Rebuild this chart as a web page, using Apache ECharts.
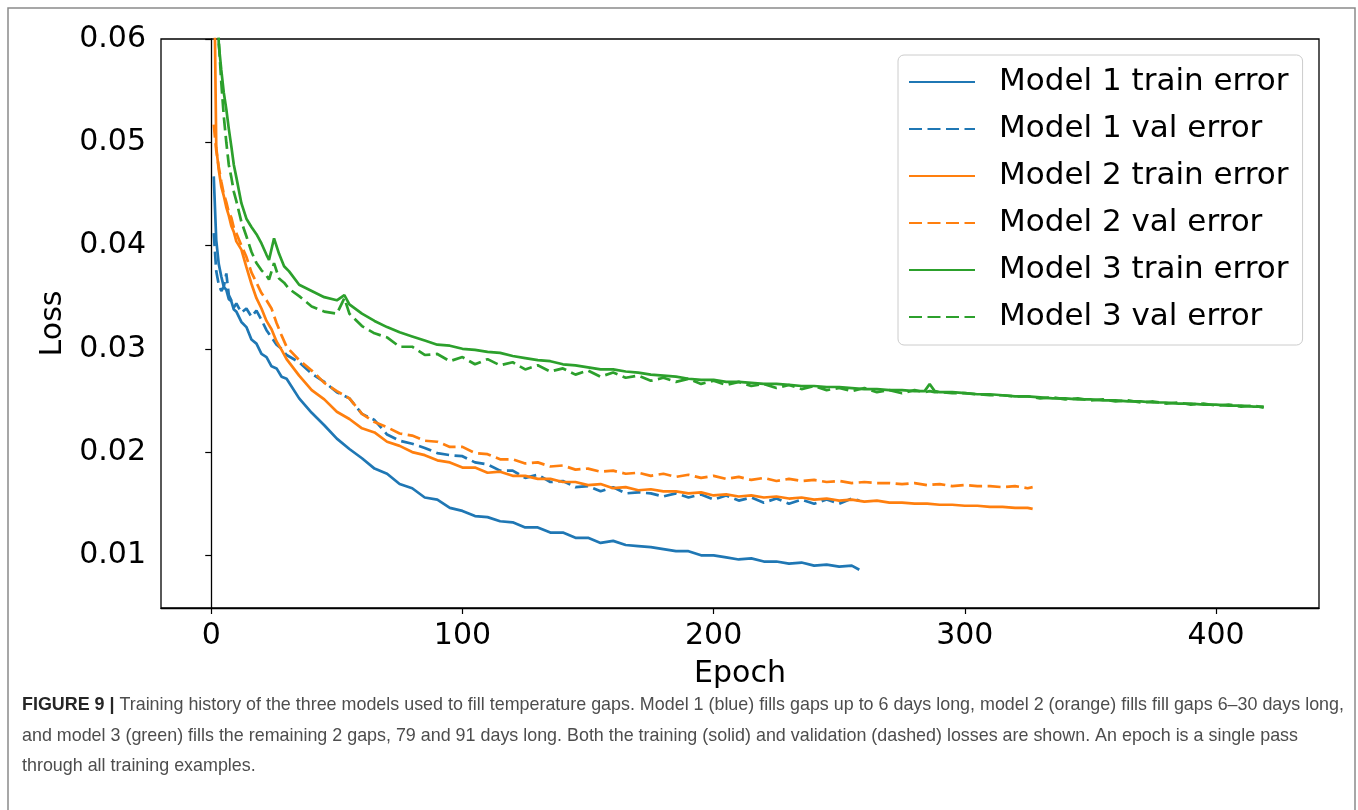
<!DOCTYPE html>
<html>
<head>
<meta charset="utf-8">
<title>Training history</title>
<script src="https://cdn.jsdelivr.net/npm/echarts@6/dist/echarts.min.js"></script>
<style>
  html, body { margin: 0; padding: 0; background: #fff; }
  #chart { width: 1358px; height: 810px; }
</style>
</head>
<body>
<div id="chart"></div>
<script>
// Epochs sampled along each curve (x values)
const m1Epochs = [1,2,3,4,5,6,7,8,9,10,12,14,16,18,20,22,24,26,28,30,35,40,45,50,55,60,65,70,75,80,85,90,95,100,105,110,115,120,125,130,135,140,145,150,155,160,165,170,175,180,185,190,195,200,205,210,215,220,225,230,235,240,245,250,255,258]
const m2Epochs = [1,2,3,4,5,6,7,8,9,10,12,14,16,18,20,22,24,26,28,30,35,40,45,50,55,60,65,70,75,80,85,90,95,100,105,110,115,120,125,130,135,140,145,150,155,160,165,170,175,180,185,190,195,200,205,210,215,220,225,230,235,240,245,250,255,260,265,270,275,280,285,290,295,300,305,310,315,320,325,327]
const m3Epochs = [1,2,3,4,5,6,7,8,9,10,12,14,16,18,20,22,23,25,27,29,31,35,40,45,50,53,55,60,65,70,75,80,85,90,95,100,105,110,115,120,125,130,135,140,145,150,155,160,165,170,175,180,185,190,195,200,205,210,215,220,225,230,235,240,245,250,255,260,265,270,275,280,284,286,288,290,295,300,305,310,315,320,325,330,335,340,345,350,355,360,365,370,375,380,385,390,395,400,405,410,415,419]

// Loss values
const m1Train = [0.0467,0.0405,0.0382,0.0370,0.0360,0.0357,0.0348,0.0346,0.0338,0.0336,0.0326,0.0321,0.0309,0.0305,0.0295,0.0292,0.0283,0.0281,0.0273,0.0271,0.0252,0.0238,0.0226,0.0213,0.0203,0.0194,0.0184,0.0179,0.0169,0.0165,0.0156,0.0154,0.0146,0.0143,0.0138,0.0137,0.0133,0.0132,0.0127,0.0127,0.0122,0.0122,0.0117,0.0117,0.0112,0.0114,0.0110,0.0109,0.0108,0.0106,0.0104,0.0104,0.0100,0.0100,0.0098,0.0096,0.0097,0.0094,0.0094,0.0092,0.0093,0.0090,0.0091,0.0089,0.0090,0.0086]
const m1Val = [0.0412,0.0375,0.0362,0.0356,0.0360,0.0373,0.0352,0.0347,0.0340,0.0344,0.0335,0.0339,0.0331,0.0337,0.0328,0.0318,0.0311,0.0304,0.0300,0.0294,0.0287,0.0276,0.0268,0.0258,0.0252,0.0237,0.0231,0.0217,0.0211,0.0208,0.0204,0.0199,0.0197,0.0196,0.0190,0.0188,0.0182,0.0182,0.0175,0.0178,0.0171,0.0172,0.0166,0.0167,0.0162,0.0166,0.0160,0.0161,0.0160,0.0157,0.0160,0.0156,0.0159,0.0154,0.0158,0.0153,0.0156,0.0151,0.0155,0.0150,0.0154,0.0150,0.0154,0.0150,0.0155,0.0153]
const m2Train = [0.0700,0.0495,0.0473,0.0457,0.0448,0.0437,0.0429,0.0419,0.0413,0.0404,0.0396,0.0379,0.0363,0.0349,0.0339,0.0327,0.0319,0.0307,0.0299,0.0290,0.0274,0.0260,0.0251,0.0239,0.0232,0.0223,0.0219,0.0210,0.0206,0.0200,0.0197,0.0192,0.0190,0.0185,0.0185,0.0180,0.0181,0.0177,0.0177,0.0174,0.0174,0.0171,0.0171,0.0168,0.0169,0.0165,0.0166,0.0163,0.0164,0.0162,0.0162,0.0160,0.0161,0.0158,0.0159,0.0157,0.0158,0.0156,0.0157,0.0155,0.0156,0.0154,0.0155,0.0153,0.0154,0.0152,0.0153,0.0151,0.0151,0.0150,0.0150,0.0149,0.0149,0.0148,0.0148,0.0147,0.0147,0.0146,0.0146,0.0145]
const m2Val = [0.0517,0.0492,0.0476,0.0462,0.0450,0.0442,0.0432,0.0427,0.0417,0.0412,0.0400,0.0389,0.0374,0.0364,0.0354,0.0347,0.0339,0.0325,0.0313,0.0302,0.0289,0.0279,0.0267,0.0259,0.0252,0.0237,0.0229,0.0224,0.0218,0.0216,0.0211,0.0210,0.0205,0.0205,0.0199,0.0198,0.0193,0.0193,0.0189,0.0190,0.0186,0.0187,0.0183,0.0184,0.0181,0.0182,0.0179,0.0180,0.0177,0.0179,0.0176,0.0178,0.0175,0.0177,0.0174,0.0176,0.0173,0.0175,0.0172,0.0174,0.0172,0.0173,0.0171,0.0172,0.0170,0.0171,0.0170,0.0170,0.0169,0.0170,0.0168,0.0169,0.0167,0.0168,0.0167,0.0167,0.0166,0.0167,0.0165,0.0166]
const m3Train = [0.0900,0.0690,0.0595,0.0570,0.0548,0.0532,0.0513,0.0496,0.0478,0.0466,0.0441,0.0426,0.0418,0.0411,0.0402,0.0391,0.0386,0.0407,0.0392,0.0380,0.0375,0.0362,0.0356,0.0350,0.0347,0.0352,0.0343,0.0334,0.0327,0.0321,0.0316,0.0312,0.0308,0.0304,0.0303,0.0300,0.0299,0.0297,0.0296,0.0293,0.0291,0.0289,0.0288,0.0285,0.0284,0.0282,0.0280,0.0280,0.0278,0.0277,0.0275,0.0274,0.0273,0.0271,0.0270,0.0270,0.0268,0.0268,0.0267,0.0266,0.0266,0.0265,0.0264,0.0264,0.0263,0.0263,0.0262,0.0261,0.0261,0.0260,0.0260,0.0259,0.0259,0.0266,0.0259,0.0258,0.0258,0.0257,0.0256,0.0256,0.0255,0.0254,0.0254,0.0253,0.0252,0.0252,0.0251,0.0251,0.0250,0.0250,0.0249,0.0249,0.0248,0.0248,0.0247,0.0247,0.0246,0.0246,0.0245,0.0245,0.0244,0.0244]
const m3Val = [0.0900,0.0700,0.0598,0.0558,0.0525,0.0500,0.0478,0.0466,0.0452,0.0443,0.0423,0.0409,0.0394,0.0383,0.0376,0.0371,0.0367,0.0383,0.0368,0.0364,0.0358,0.0351,0.0341,0.0336,0.0334,0.0349,0.0334,0.0322,0.0315,0.0311,0.0302,0.0302,0.0294,0.0295,0.0288,0.0292,0.0285,0.0290,0.0284,0.0287,0.0280,0.0284,0.0278,0.0281,0.0275,0.0279,0.0273,0.0277,0.0272,0.0274,0.0269,0.0272,0.0268,0.0271,0.0266,0.0269,0.0265,0.0268,0.0264,0.0266,0.0262,0.0265,0.0261,0.0264,0.0260,0.0262,0.0259,0.0262,0.0258,0.0260,0.0257,0.0260,0.0258,0.0259,0.0258,0.0258,0.0257,0.0257,0.0256,0.0255,0.0255,0.0254,0.0254,0.0252,0.0253,0.0251,0.0252,0.0250,0.0251,0.0249,0.0250,0.0248,0.0249,0.0247,0.0248,0.0246,0.0247,0.0245,0.0246,0.0244,0.0245,0.0243]

const xTicks = [0, 100, 200, 300, 400]
const yTicks = [0.01, 0.02, 0.03, 0.04, 0.05, 0.06]

const BLUE = '#1f77b4'
const ORANGE = '#ff7f0e'
const GREEN = '#2ca02c'
const DASH = [13, 5.5]
const FONT = 'DejaVu Sans'

const zip = (xs, ys) => xs.map((x, i) => [x, ys[i]])

const lineSeries = (name, epochs, values, color, dashed) => ({
  name,
  type: 'line',
  data: zip(epochs, values),
  symbol: 'none',
  clip: true,
  lineStyle: { color, width: 2.7, type: dashed ? DASH : 'solid' },
  itemStyle: { color }
})

const chart = echarts.init(document.getElementById('chart'))

chart.setOption({
  animation: false,
  backgroundColor: '#fff',
  title: {
    left: 17,
    top: 685,
    text: '{b|FIGURE 9 |} Training history of the three models used to fill temperature gaps. Model 1 (blue) fills gaps up to 6 days long, model 2 (orange) fills fill gaps 6–30 days long,\nand model 3 (green) fills the remaining 2 gaps, 79 and 91 days long. Both the training (solid) and validation (dashed) losses are shown. An epoch is a single pass\nthrough all training examples.',
    textStyle: {
      fontFamily: 'Liberation Sans',
      fontSize: 17.9,
      fontWeight: 'normal',
      color: '#4d4d4d',
      lineHeight: 30.5,
      rich: {
        b: { fontFamily: 'Liberation Sans', fontSize: 17.9, fontWeight: 'bold', color: '#262626', lineHeight: 30.5 }
      }
    }
  },
  grid: {
    left: 161,
    top: 39,
    right: 39,
    bottom: 202,
    show: true,
    borderColor: '#000',
    borderWidth: 1.3,
    containLabel: false
  },
  legend: {
    orient: 'vertical',
    left: 898,
    top: 55,
    padding: [10, 14, 11, 10],
    itemWidth: 66,
    itemHeight: 14,
    itemGap: 13,
    borderColor: '#cccccc',
    borderWidth: 1,
    borderRadius: 6,
    backgroundColor: 'rgba(255,255,255,0.8)',
    itemStyle: { opacity: 0 },
    textStyle: { fontFamily: FONT, fontSize: 31, color: '#000', lineHeight: 34, padding: [0, 0, 0, 19] },
    data: ['Model 1 train error', 'Model 1 val error', 'Model 2 train error', 'Model 2 val error', 'Model 3 train error', 'Model 3 val error']
  },
  xAxis: {
    type: 'value',
    min: -20,
    max: 441,
    name: 'Epoch',
    nameLocation: 'middle',
    nameGap: 51,
    nameTextStyle: { fontFamily: FONT, fontSize: 30, color: '#000' },
    axisLine: { show: true, lineStyle: { color: '#000', width: 1.3 } },
    axisTick: { show: true, length: 6, customValues: xTicks, lineStyle: { color: '#000', width: 1.2 } },
    axisLabel: { customValues: xTicks, fontFamily: FONT, fontSize: 30, color: '#000', margin: 13 },
    splitLine: { show: false }
  },
  yAxis: {
    type: 'value',
    min: 0.0049,
    max: 0.06,
    name: 'Loss',
    nameLocation: 'middle',
    nameGap: 83,
    nameTextStyle: { fontFamily: FONT, fontSize: 30, color: '#000' },
    axisLine: { show: true, lineStyle: { color: '#000', width: 1.3 } },
    axisTick: { show: true, length: 6, customValues: yTicks, lineStyle: { color: '#000', width: 1.2 } },
    axisLabel: {
      customValues: yTicks,
      fontFamily: FONT,
      fontSize: 30,
      color: '#000',
      margin: 15,
      formatter: v => v.toFixed(2)
    },
    splitLine: { show: false }
  },
  graphic: [
    {
      type: 'rect',
      silent: true,
      shape: { x: 8, y: 8, width: 1347, height: 900 },
      style: { fill: 'none', stroke: '#8a8a8a', lineWidth: 1.5 }
    }
  ],
  series: [
    lineSeries('Model 1 train error', m1Epochs, m1Train, BLUE, false),
    lineSeries('Model 1 val error', m1Epochs, m1Val, BLUE, true),
    lineSeries('Model 2 train error', m2Epochs, m2Train, ORANGE, false),
    lineSeries('Model 2 val error', m2Epochs, m2Val, ORANGE, true),
    lineSeries('Model 3 train error', m3Epochs, m3Train, GREEN, false),
    lineSeries('Model 3 val error', m3Epochs, m3Val, GREEN, true)
  ]
})

window.addEventListener('resize', () => chart.resize())
</script>
</body>
</html>
